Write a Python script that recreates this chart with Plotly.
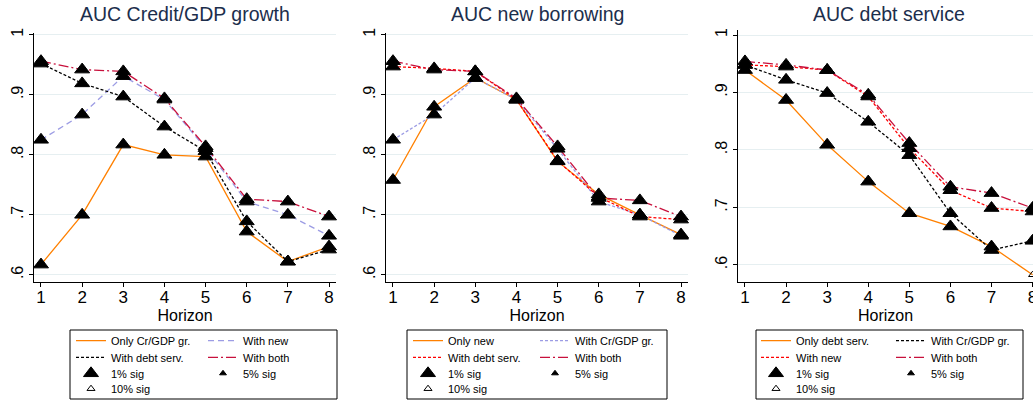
import plotly.graph_objects as go

horizon = [1, 2, 3, 4, 5, 6, 7, 8]

# AUC Credit/GDP growth
cg_only = [0.617, 0.700, 0.817, 0.800, 0.797, 0.672, 0.622, 0.647]
cg_with_new = [0.825, 0.867, 0.931, 0.892, 0.811, 0.722, 0.700, 0.665]
cg_with_ds = [0.952, 0.919, 0.897, 0.847, 0.806, 0.689, 0.622, 0.642]
cg_with_both = [0.956, 0.942, 0.939, 0.894, 0.814, 0.726, 0.722, 0.697]

# AUC new borrowing
nb_only = [0.758, 0.880, 0.928, 0.892, 0.789, 0.734, 0.700, 0.667]
nb_with_cg = [0.825, 0.867, 0.928, 0.892, 0.810, 0.722, 0.700, 0.665]
nb_with_ds = [0.947, 0.944, 0.939, 0.892, 0.790, 0.730, 0.697, 0.692]
nb_with_both = [0.956, 0.942, 0.939, 0.894, 0.814, 0.728, 0.724, 0.697]

# AUC debt service
ds_only = [0.939, 0.887, 0.809, 0.745, 0.690, 0.667, 0.632, 0.583]
ds_with_cg = [0.948, 0.922, 0.899, 0.849, 0.791, 0.690, 0.626, 0.642]
ds_with_new = [0.948, 0.945, 0.939, 0.893, 0.803, 0.730, 0.699, 0.693]
ds_with_both = [0.954, 0.948, 0.939, 0.896, 0.812, 0.736, 0.725, 0.699]

# significance level of each point (1, 5 or 10 %)
all_1pct = [1, 1, 1, 1, 1, 1, 1, 1]
ds_only_sig = [1, 1, 1, 1, 1, 1, 1, 10]

titles = ["AUC Credit/GDP growth", "AUC new borrowing", "AUC debt service"]
ytick_vals = [0.6, 0.7, 0.8, 0.9, 1.0]
ytick_text = [".6", ".7", ".8", ".9", "1"]

ORANGE = "#ff8000"
LAVENDER = "#9c9ce4"
BLACK = "#000000"
RED = "#ff0000"
CRIMSON = "#c8103c"
FONT = "Liberation Sans"

panels = [
    [("Only Cr/GDP gr.", cg_only, all_1pct, ORANGE, "solid"),
     ("With new", cg_with_new, all_1pct, LAVENDER, "6px,4px"),
     ("With debt serv.", cg_with_ds, all_1pct, BLACK, "3px,2px"),
     ("With both", cg_with_both, all_1pct, CRIMSON, "10px,3px,2px,3px")],
    [("Only new", nb_only, all_1pct, ORANGE, "solid"),
     ("With Cr/GDP gr.", nb_with_cg, all_1pct, LAVENDER, "3px,2px"),
     ("With debt serv.", nb_with_ds, all_1pct, RED, "3px,2px"),
     ("With both", nb_with_both, all_1pct, CRIMSON, "10px,3px,2px,3px")],
    [("Only debt serv.", ds_only, ds_only_sig, ORANGE, "solid"),
     ("With Cr/GDP gr.", ds_with_cg, all_1pct, BLACK, "3px,2px"),
     ("With new", ds_with_new, all_1pct, RED, "3px,2px"),
     ("With both", ds_with_both, all_1pct, CRIMSON, "10px,3px,2px,3px")],
]

W, H = 1033, 403
# pixel layout of each panel: left, right, top, bottom
boxes = [(34, 336, 33, 282), (386, 688, 33, 282), (738, 1033, 30, 282)]
xranges = [[0.83, 8.17], [0.83, 8.17], [0.83, 8.01]]
yranges = [[0.588, 1.003], [0.588, 1.003], [0.5704, 1.0087]]
title_x = [185, 537, 889]
# legend boxes and columns (pixels)
leg_boxes = [(70, 337), (407, 667), (756, 1023)]
leg_col1 = [76, 413, 761]
leg_colw = [132, 127, 135]
row_y = [340.7, 357.3, 373.3, 388.7]


def px(v):
    return v / W


def py(v):
    return 1 - v / H


fig = go.Figure()
layout = dict(width=W, height=H, margin=dict(l=0, r=0, t=0, b=0, autoexpand=False),
              paper_bgcolor="white", plot_bgcolor="white",
              font=dict(family=FONT, color="black"), showlegend=True,
              annotations=[], shapes=[])


def leg_name(p, r):
    i = p * 4 + r + 1
    return "legend" if i == 1 else "legend%d" % i


for p, series in enumerate(panels):
    ax = "" if p == 0 else str(p + 1)
    xa, ya = "x" + ax, "y" + ax
    l, r, t, b = boxes[p]
    # line order in legend: row 1 = series 0,1 ; row 2 = series 2,3
    for k, (name, vals, sig, col, dash) in enumerate(series):
        fig.add_trace(go.Scatter(
            x=horizon, y=vals, mode="lines", name=name,
            line=dict(color=col, width=1.3, dash=dash),
            xaxis=xa, yaxis=ya, legend=leg_name(p, k // 2), hoverinfo="skip"))
    for lvl, sym, size, row in [(1, "triangle-up", 13, 2), (5, "triangle-up", 6, 2),
                                (10, "triangle-up-open", 7, 3)]:
        mx, my = [], []
        for name, vals, sig, col, dash in series:
            for h, v, s in zip(horizon, vals, sig):
                if s == lvl:
                    mx.append(h)
                    my.append(v)
        if not mx:
            # no point at this level: keep the legend entry anyway
            mx, my = [None], [None]
        fig.add_trace(go.Scatter(
            x=mx, y=my, mode="markers", name="%d%% sig" % lvl,
            marker=dict(symbol=sym, size=size, color="black", line=dict(width=1, color="black")),
            xaxis=xa, yaxis=ya, legend=leg_name(p, row), hoverinfo="skip", cliponaxis=False))

    layout["xaxis" + ax] = dict(
        domain=[px(l), px(r)], range=xranges[p], anchor=ya,
        tickvals=horizon, ticks="outside", ticklen=4, tickcolor="black",
        showline=True, linecolor="black", linewidth=1, showgrid=False, zeroline=False,
        tickfont=dict(size=17), ticklabelstandoff=-4, ticklabeloverflow="allow",
        title=dict(text="Horizon", font=dict(size=16), standoff=0))
    layout["yaxis" + ax] = dict(
        domain=[py(b), py(t)], range=yranges[p], anchor=xa,
        tickvals=ytick_vals, ticktext=ytick_text, tickangle=-90,
        ticks="outside", ticklen=4, tickcolor="black",
        showline=True, linecolor="black", linewidth=1,
        showgrid=True, gridcolor="#e6eff1", gridwidth=1, zeroline=False,
        tickfont=dict(size=16))
    layout["annotations"].append(dict(
        text=titles[p], x=px(title_x[p]), y=py(14), xref="paper", yref="paper",
        xanchor="center", yanchor="middle", showarrow=False,
        font=dict(size=19.5, color="#1c2e4c")))
    bl, br = leg_boxes[p]
    layout["shapes"].append(dict(
        type="rect", xref="paper", yref="paper", x0=px(bl), x1=px(br),
        y0=py(399), y1=py(330), line=dict(color="black", width=1)))
    for rr in range(4):
        layout[leg_name(p, rr)] = dict(
            x=px(leg_col1[p] - 5), xanchor="left", y=py(row_y[rr]), yanchor="middle",
            orientation="h", entrywidth=leg_colw[p] - 45, entrywidthmode="pixels",
            bgcolor="rgba(0,0,0,0)", borderwidth=0, font=dict(size=11),
            itemclick=False, itemdoubleclick=False)

fig.update_layout(**layout)
# page body has an 8px default margin; drop it so the figure fills the window
fig.write_html("out.html", config={"displayModeBar": False},
               post_script="document.body.style.margin = '0';")
